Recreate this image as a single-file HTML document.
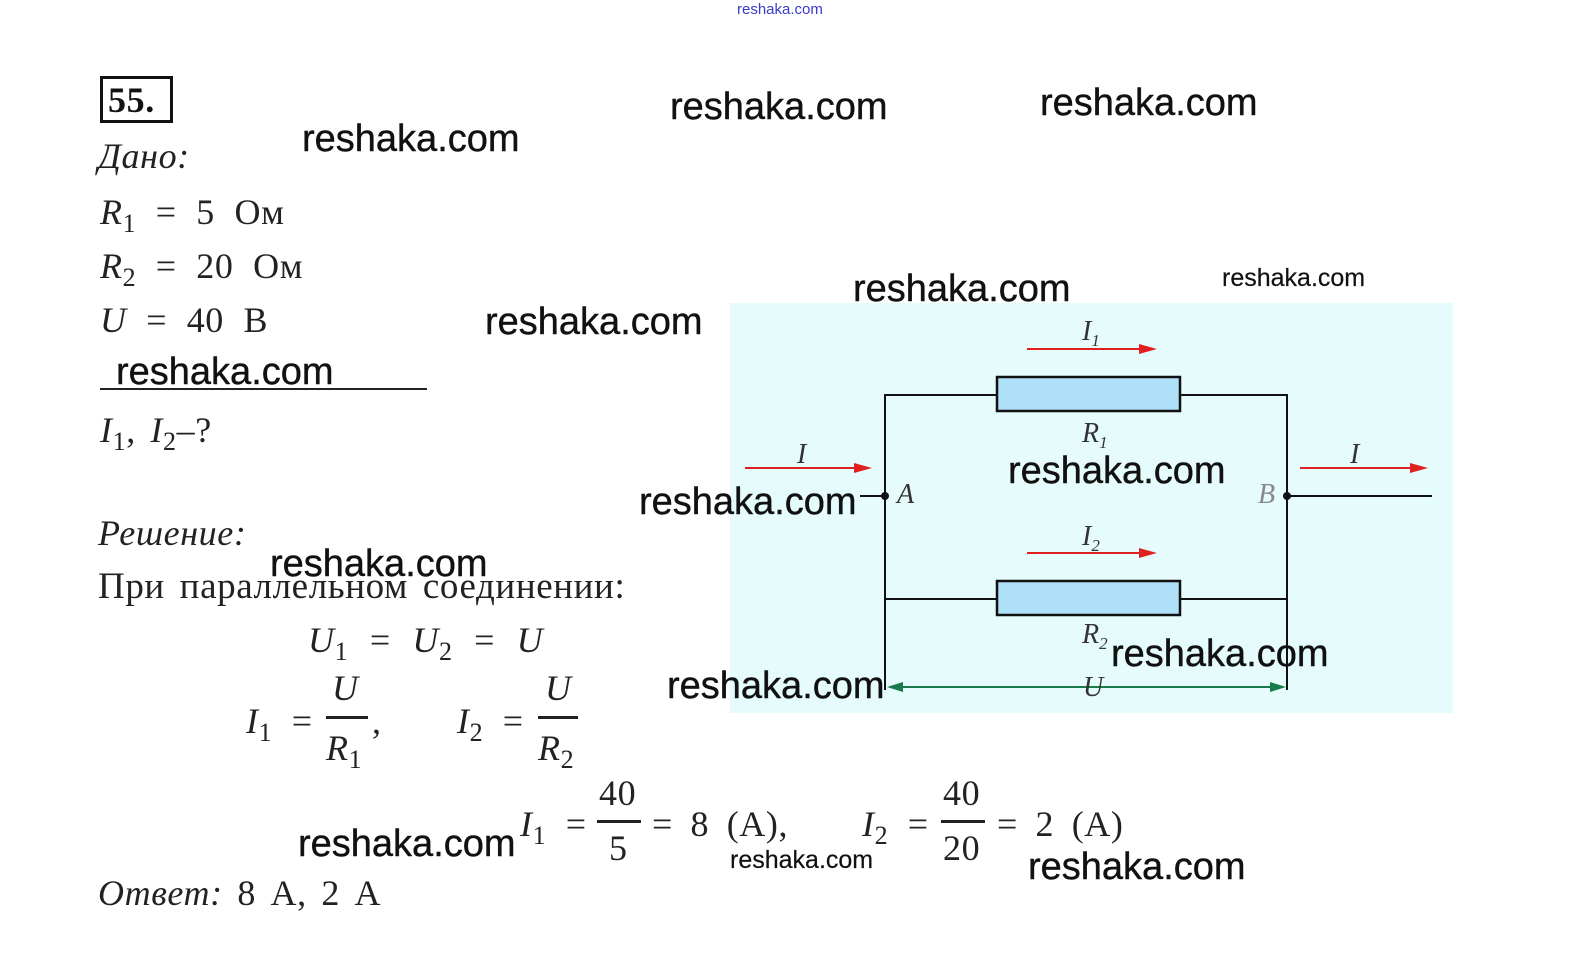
<!DOCTYPE html>
<html><head><meta charset="utf-8"><style>
body{margin:0;width:1582px;height:975px;background:#fff;position:relative;overflow:hidden}
.w{position:absolute;font-family:"Liberation Sans",sans-serif;font-size:38px;line-height:1;color:#111;white-space:nowrap;-webkit-text-stroke:0.4px #111}
.s{font-size:25px;-webkit-text-stroke:0.2px #111}
.t{position:absolute;font-family:"Liberation Serif",serif;font-size:36px;line-height:1;color:#222;white-space:nowrap;letter-spacing:0.6px;word-spacing:5px}
i{font-style:italic}
sub{font-size:26px;vertical-align:-8px;line-height:0}
.bar{position:absolute;height:3px;background:#222}
</style></head><body>
<div class="w" style="left:737px;top:2px;font-size:15px;color:#3a3ad0;-webkit-text-stroke:0">reshaka.com</div>
<svg style="position:absolute;left:0;top:0" width="1582" height="975">
<rect x="730" y="303" width="723" height="410" fill="#e6fcfc"/>
<g stroke="#111" stroke-width="2" fill="none">
<polyline points="997,395 885,395 885,690"/>
<polyline points="1180,395 1287,395 1287,690"/>
<line x1="885" y1="599" x2="997" y2="599"/><line x1="1180" y1="599" x2="1287" y2="599"/>
<line x1="860" y1="496" x2="885" y2="496"/><line x1="1287" y1="496" x2="1432" y2="496"/>
</g>
<rect x="997" y="377" width="183" height="34" fill="#aee0f8" stroke="#111" stroke-width="2.5"/>
<rect x="997" y="581" width="183" height="34" fill="#aee0f8" stroke="#111" stroke-width="2.5"/>
<circle cx="885" cy="496" r="4" fill="#111"/><circle cx="1287" cy="496" r="4" fill="#111"/>
<g stroke="#e02020" stroke-width="2"><line x1="1027" y1="349" x2="1140" y2="349"/><line x1="1027" y1="553" x2="1140" y2="553"/><line x1="745" y1="468" x2="855" y2="468"/><line x1="1300" y1="468" x2="1410" y2="468"/></g>
<g fill="#e02020"><path d="M1157 349l-18 -5v10z"/><path d="M1157 553l-18 -5v10z"/><path d="M872 468l-18 -5v10z"/><path d="M1428 468l-18 -5v10z"/></g>
<line x1="900" y1="687" x2="1272" y2="687" stroke="#1a7a4a" stroke-width="2"/>
<path d="M887 687l16 -5v10z M1286 687l-16 -5v10z" fill="#1a7a4a"/>
<g font-family="Liberation Serif" font-style="italic" fill="#333" font-size="28">
<text x="1082" y="340">I<tspan font-size="17" dy="6">1</tspan></text>
<text x="1082" y="442">R<tspan font-size="17" dy="6">1</tspan></text>
<text x="1082" y="545">I<tspan font-size="17" dy="6">2</tspan></text>
<text x="1082" y="643">R<tspan font-size="17" dy="6">2</tspan></text>
<text x="797" y="463">I</text><text x="1350" y="463">I</text>
<text x="897" y="503">A</text><text x="1258" y="503" fill="#888">B</text>
<text x="1083" y="696">U</text>
</g>
</svg>
<div style="position:absolute;left:100px;top:76px;width:67px;height:41px;border:3px solid #111"></div>
<div class="t" style="left:108px;top:82px;font-weight:bold;font-size:36px;color:#111">55.</div>
<div class="t" style="left:98px;top:138px"><i>Дано:</i></div>
<div class="t" style="left:100px;top:194px;word-spacing:10px"><i>R</i><sub>1</sub> = 5 Ом</div>
<div class="t" style="left:100px;top:248px;word-spacing:10px"><i>R</i><sub>2</sub> = 20 Ом</div>
<div class="t" style="left:100px;top:302px;word-spacing:10px"><i>U</i> = 40 В</div>
<div class="bar" style="left:100px;top:388px;width:327px;height:2px"></div>
<div class="t" style="left:100px;top:412px"><i>I</i><sub>1</sub>, <i>I</i><sub>2</sub>–?</div>
<div class="t" style="left:98px;top:515px"><i>Решение:</i></div>
<div class="t" style="left:98px;top:568px;font-size:37px">При параллельном соединении:</div>
<div class="t" style="left:308px;top:622px;word-spacing:12px"><i>U</i><sub>1</sub> = <i>U</i><sub>2</sub> = <i>U</i></div>
<div class="t" style="left:246px;top:703px;word-spacing:10px"><i>I</i><sub>1</sub> =</div>
<div class="t" style="left:332px;top:670px"><i>U</i></div>
<div class="bar" style="left:326px;top:716px;width:42px"></div>
<div class="t" style="left:326px;top:730px"><i>R</i><sub>1</sub></div>
<div class="t" style="left:372px;top:703px">,</div>
<div class="t" style="left:457px;top:703px;word-spacing:10px"><i>I</i><sub>2</sub> =</div>
<div class="t" style="left:545px;top:670px"><i>U</i></div>
<div class="bar" style="left:538px;top:716px;width:40px"></div>
<div class="t" style="left:538px;top:730px"><i>R</i><sub>2</sub></div>
<div class="t" style="left:520px;top:806px;word-spacing:10px"><i>I</i><sub>1</sub> =</div>
<div class="t" style="left:599px;top:775px">40</div>
<div class="bar" style="left:597px;top:820px;width:44px"></div>
<div class="t" style="left:609px;top:830px">5</div>
<div class="t" style="left:652px;top:806px;word-spacing:8px">= 8 (А),</div>
<div class="t" style="left:862px;top:806px;word-spacing:10px"><i>I</i><sub>2</sub> =</div>
<div class="t" style="left:943px;top:775px">40</div>
<div class="bar" style="left:941px;top:820px;width:44px"></div>
<div class="t" style="left:943px;top:830px">20</div>
<div class="t" style="left:997px;top:806px;word-spacing:8px">= 2 (А)</div>
<div class="t" style="left:98px;top:875px"><i>Ответ:</i> 8 А, 2 А</div>
<div class="w" style="left:302px;top:120px">reshaka.com</div>
<div class="w" style="left:670px;top:88px">reshaka.com</div>
<div class="w" style="left:1040px;top:84px">reshaka.com</div>
<div class="w" style="left:853px;top:270px">reshaka.com</div>
<div class="w s" style="left:1222px;top:266px">reshaka.com</div>
<div class="w" style="left:485px;top:303px">reshaka.com</div>
<div class="w" style="left:116px;top:353px">reshaka.com</div>
<div class="w" style="left:1008px;top:452px">reshaka.com</div>
<div class="w" style="left:639px;top:483px">reshaka.com</div>
<div class="w" style="left:270px;top:545px">reshaka.com</div>
<div class="w" style="left:1111px;top:635px">reshaka.com</div>
<div class="w" style="left:667px;top:667px">reshaka.com</div>
<div class="w" style="left:298px;top:825px">reshaka.com</div>
<div class="w s" style="left:730px;top:848px">reshaka.com</div>
<div class="w" style="left:1028px;top:848px">reshaka.com</div>
</body></html>
